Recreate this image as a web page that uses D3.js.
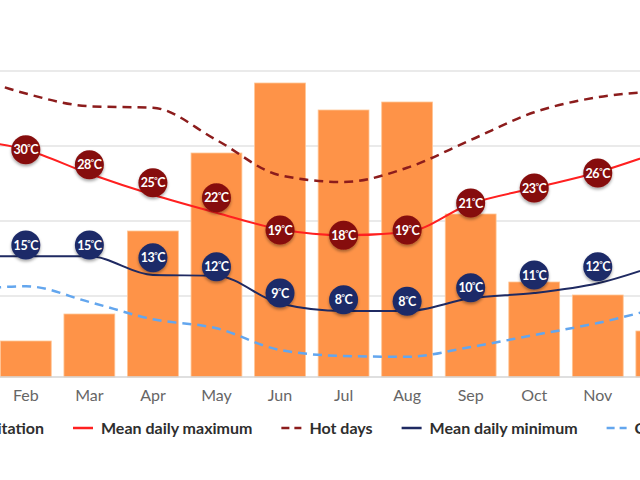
<!DOCTYPE html>
<html lang="en">
<head>
  <meta charset="UTF-8" />
  <title>Climate chart</title>
  <style>
    body { margin: 0; background: #fff; }
    svg { display: block; font-family: 'Lato', sans-serif; }
    .grid line { stroke: #e3e3e3; stroke-width: 1.5px; }
    .legend text { fill: #2e2e2e; font-size: 16px; font-weight: 700; }
    .dot text { fill: #fff; font-size: 12.5px; font-weight: 700; }
  </style>
</head>
<body>
  <svg id="chart" width="640" height="480"></svg>

  <script src="https://cdnjs.cloudflare.com/ajax/libs/d3/7.8.5/d3.min.js"></script>
  <script>
    // data
    const months = ["Jan", "Feb", "Mar", "Apr", "May", "Jun", "Jul", "Aug", "Sep", "Oct", "Nov", "Dec"];
    const precipitation = [10, 18, 31.5, 73, 112, 147, 133.5, 137.5, 81.5, 47.5, 41, 23];      // mm
    const meanMax = [30.9, 29.5, 26.3, 23.5, 21.1, 18.9, 18.1, 18.5, 22.3, 24.4, 26.5, 29.3];   // °C
    const meanMin = [15.3, 15.3, 15.3, 12.8, 12.7, 9.0, 8.0, 8.0, 9.7, 10.4, 11.7, 14.3];
    const hotDays = [39.8, 37.0, 35.3, 35.1, 30.8, 26.1, 25.2, 27.1, 30.8, 34.5, 36.5, 37.3];
    const coldNights = [10.7, 11.3, 9.2, 6.9, 5.7, 2.8, 2.0, 1.9, 3.2, 4.8, 6.4, 8.5];
    // badge labels and where the badges sit on the temperature axis
    const maxLabels = [31, 30, 28, 25, 22, 19, 18, 19, 21, 23, 26, 29];
    const maxBadgeAt = [31.0, 29.5, 27.5, 25.1, 23.1, 18.8, 18.1, 18.8, 22.4, 24.4, 26.4, 29.6];
    const minLabels = [15, 15, 15, 13, 12, 9, 8, 8, 10, 11, 12, 14];
    const minBadgeAt = [16.8, 16.8, 16.8, 15.1, 13.9, 10.4, 9.5, 9.3, 11.1, 12.8, 13.9, 15.8];
    const tempTicks = [10, 20, 30, 40];
    const legendItems = [
      { label: "Precipitation", kind: "bar" },
      { label: "Mean daily maximum", kind: "line", color: "#ff2020", dash: null },
      { label: "Hot days", kind: "line", color: "#8c1c1c", dash: "8,5" },
      { label: "Mean daily minimum", kind: "line", color: "#1f2a62", dash: null },
      { label: "Cold nights", kind: "line", color: "#63a6ee", dash: "8,5" }
    ];

    const svg = d3.select("#chart");

    // the plot is wider than the window: Jan and Dec fall mostly outside
    const x = d3.scaleBand()
      .domain(months)
      .range([-69.5, 693.1])
      .paddingInner(0.2)
      .paddingOuter(0.1);
    const cx = m => x(m) + x.bandwidth() / 2;

    const yTemp = d3.scaleLinear().domain([0, 40]).range([371, 71]);
    const yRain = d3.scaleLinear().domain([0, 150]).range([377, 77]);

    const defs = svg.append("defs");
    const shadow = defs.append("filter").attr("id", "shadow")
      .attr("x", "-50%").attr("y", "-50%").attr("width", "200%").attr("height", "200%");
    shadow.append("feDropShadow")
      .attr("dx", 0).attr("dy", 2).attr("stdDeviation", 1.5)
      .attr("flood-color", "#000").attr("flood-opacity", 0.35);

    // gridlines
    svg.append("g").attr("class", "grid")
      .selectAll("line").data(tempTicks).join("line")
      .attr("x1", 0).attr("x2", 640)
      .attr("y1", d => yTemp(d)).attr("y2", d => yTemp(d));

    // bars
    svg.append("g").selectAll("rect").data(months).join("rect")
      .attr("x", d => x(d))
      .attr("width", x.bandwidth())
      .attr("y", (d, i) => yRain(precipitation[i]))
      .attr("height", (d, i) => yRain(0) - yRain(precipitation[i]))
      .attr("fill", "#fe9348")
      .attr("stroke", "#ffc595")
      .attr("stroke-width", 0.8);

    // x axis baseline
    svg.append("line")
      .attr("x1", 0).attr("x2", 640)
      .attr("y1", yRain(0)).attr("y2", yRain(0))
      .attr("stroke", "#d4d4d4").attr("stroke-width", 1.5);

    const xAxis = d3.axisBottom(x).tickSize(0).tickPadding(13);
    const axisG = svg.append("g").attr("transform", `translate(0,${yRain(0)})`).call(xAxis);
    axisG.select(".domain").remove();
    axisG.selectAll("text")
      .attr("fill", "#666")
      .attr("font-family", "Lato")
      .attr("font-size", 16);

    function drawLine(values, color, width, dash) {
      const line = d3.line()
        .x((d, i) => cx(months[i]))
        .y(d => yTemp(d))
        .curve(d3.curveMonotoneX);
      svg.append("path")
        .datum(values)
        .attr("fill", "none")
        .attr("stroke", color)
        .attr("stroke-width", width)
        .attr("stroke-dasharray", dash)
        .attr("d", line);
    }

    drawLine(coldNights, "#63a6ee", 2.5, "9,6");
    drawLine(hotDays, "#8c1c1c", 2.5, "9,6");
    drawLine(meanMax, "#ff2020", 2, null);
    drawLine(meanMin, "#1f2a62", 2, null);

    function drawBadges(labels, at, fill) {
      const g = svg.append("g").selectAll("g").data(labels).join("g")
        .attr("class", "dot")
        .attr("transform", (d, i) => `translate(${cx(months[i])},${yTemp(at[i])})`);
      g.append("circle").attr("r", 14.5).attr("fill", fill).attr("filter", "url(#shadow)");
      const t = g.append("text")
        .attr("text-anchor", "middle")
        .attr("y", 4.5)
        .attr("letter-spacing", "-0.4px");
      t.append("tspan").text(d => d);
      t.append("tspan").attr("font-size", 8).attr("dy", -4).text("°");
      t.append("tspan").attr("dy", 4).text("C");
    }

    drawBadges(maxLabels, maxBadgeAt, "#860b0b");
    drawBadges(minLabels, minBadgeAt, "#1c2a68");

    // legend, laid out in a row
    const legend = svg.append("g").attr("class", "legend");
    const legendY = 428;
    const items = legend.selectAll("g").data(legendItems).join("g");
    items.each(function (d) {
      const g = d3.select(this);
      if (d.kind === "bar") {
        g.append("rect").attr("x", 0).attr("y", -6).attr("width", 12).attr("height", 12).attr("fill", "#fe9348");
        d.sw = 12;
      } else {
        g.append("line").attr("x1", 0).attr("x2", 20).attr("y1", 0).attr("y2", 0)
          .attr("stroke", d.color).attr("stroke-width", 2.5).attr("stroke-dasharray", d.dash);
        d.sw = 20;
      }
      const t = g.append("text").attr("x", d.sw + 8).attr("dy", "0.35em").text(d.label);
      d.w = d.sw + 8 + t.node().getComputedTextLength();
    });
    let pos = 0;
    const starts = legendItems.map(d => { const s = pos; pos += d.w + 29; return s; });
    const shift = 73 - starts[1];
    items.attr("transform", (d, i) => `translate(${starts[i] + shift},${legendY})`);
  </script>
</body>
</html>
